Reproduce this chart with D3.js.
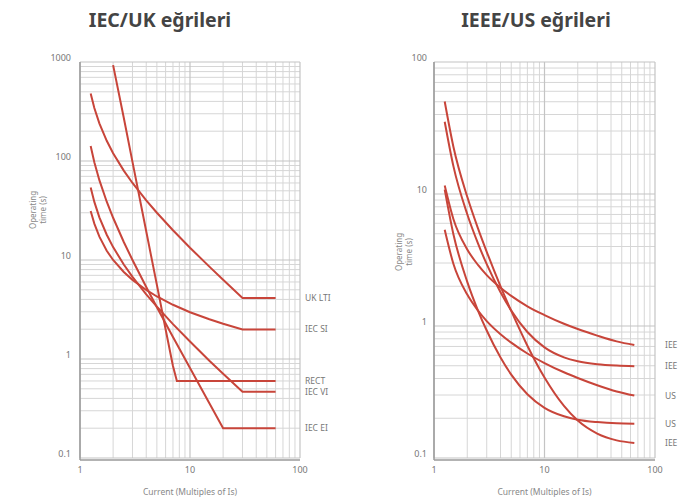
<!DOCTYPE html>
<html>
<head>
<meta charset="utf-8">
<script src="https://cdn.jsdelivr.net/npm/d3@7"></script>
<style>
  body { margin: 0; background: #fff; }
  svg { display: block; font-family: "Noto Sans", "Open Sans", sans-serif; }
</style>
</head>
<body>
<svg width="679" height="504"></svg>
<script>
// multiples of Is used for the readings
var currentLeft = [1.25, 1.35, 1.5, 1.75, 2, 2.5, 3, 4, 5, 7, 10, 15, 20, 30, 60];
var currentRight = [1.25, 1.5, 2, 2.5, 3, 4, 5, 7, 10, 15, 20, 30, 45, 65];

// IEC / UK curves (operating time, s)
var iecSI  = [31.3, 23.3, 17.2, 12.4, 10.0, 7.57, 6.30, 4.98, 4.28, 3.53, 2.97, 2.52, 2.27, 1.99, 1.99];
var iecVI  = [54, 38.6, 27, 18, 13.5, 9.0, 6.75, 4.5, 3.38, 2.25, 1.5, 0.96, 0.71, 0.466, 0.466];
var iecEI  = [142, 97.3, 64, 38.8, 26.7, 15.2, 10, 5.33, 3.33, 1.67, 0.81, 0.357, 0.2, 0.2, 0.2];
var ukLTI  = [480, 343, 240, 160, 120, 80, 60, 40, 30, 20, 13.3, 8.57, 6.32, 4.14, 4.14];
var rectX  = [2, 2.5, 3, 4, 5, 6, 7, 7.6, 60];
var rectT  = [930, 273, 98, 19.5, 5.6, 2.0, 0.85, 0.6, 0.6];

// IEEE / US curves (operating time, s)
var ieeeMI = [11.6, 6.44, 3.80, 2.90, 2.43, 1.95, 1.69, 1.41, 1.21, 1.04, 0.948, 0.846, 0.765, 0.718];
var ieeeVI = [35.3, 16.2, 7.03, 4.23, 2.94, 1.80, 1.31, 0.90, 0.689, 0.579, 0.540, 0.513, 0.501, 0.496];
var ieeeEI = [50.2, 22.7, 9.52, 5.49, 3.65, 2.00, 1.30, 0.709, 0.407, 0.248, 0.192, 0.153, 0.136, 0.130];
var usCO8  = [10.8, 4.94, 2.16, 1.31, 0.924, 0.577, 0.428, 0.304, 0.240, 0.207, 0.195, 0.187, 0.183, 0.182];
var usCO2  = [5.36, 2.95, 1.73, 1.31, 1.09, 0.867, 0.748, 0.619, 0.524, 0.446, 0.404, 0.356, 0.319, 0.297];

var leftNames = ["UK LTI", "IEC SI", "RECT", "IEC VI", "IEC EI"];
// right-hand labels run off the edge of the original; only these letters show
var rightNames = ["IEE", "IEE", "US", "US", "IEE"];
var xTicks = [1, 10, 100];
var leftYTicks = [0.1, 1, 10, 100, 1000];
var rightYTicks = [0.1, 1, 10, 100];

var svg = d3.select("svg");
var red = "#c8453a";

function zip(xs, ys) {
  return xs.map(function(x, i) { return [x, ys[i]]; });
}

function drawPanel(opt) {
  var x = d3.scaleLog().domain([1, 100]).range(opt.xr);
  var y = d3.scaleLog().domain(opt.yd).range(opt.yr);
  var g = svg.append("g");

  // minor grid
  var xMinor = [], yMinor = [];
  for (var d = 1; d < 100; d *= 10)
    for (var k = 2; k < 10; k++) xMinor.push(d * k);
  for (var d2 = opt.yd[0]; d2 < opt.yd[1] * 0.99; d2 *= 10)
    for (var k2 = 2; k2 < 10; k2++) yMinor.push(d2 * k2);

  g.selectAll(".vx").data(xMinor).enter().append("line")
    .attr("x1", x).attr("x2", x)
    .attr("y1", opt.yr[0]).attr("y2", opt.yr[1])
    .attr("stroke", "#d6d6d6").attr("stroke-width", 1);
  g.selectAll(".hy").data(yMinor).enter().append("line")
    .attr("y1", y).attr("y2", y)
    .attr("x1", opt.xr[0]).attr("x2", opt.xr[1])
    .attr("stroke", "#d6d6d6").attr("stroke-width", 1);
  // decade lines
  g.selectAll(".mx").data(xTicks).enter().append("line")
    .attr("x1", x).attr("x2", x)
    .attr("y1", opt.yr[0]).attr("y2", opt.yr[1])
    .attr("stroke", "#c4c4c4").attr("stroke-width", 1.2);
  g.selectAll(".my").data(opt.yTicks).enter().append("line")
    .attr("y1", y).attr("y2", y)
    .attr("x1", opt.xr[0]).attr("x2", opt.xr[1])
    .attr("stroke", "#c4c4c4").attr("stroke-width", 1.2);

  // axes
  g.append("line").attr("x1", opt.xr[0]).attr("x2", opt.xr[0])
    .attr("y1", opt.yr[0] + 2).attr("y2", opt.yr[1])
    .attr("stroke", "#9a9a9a").attr("stroke-width", 1.5);
  g.append("line").attr("x1", opt.xr[0]).attr("x2", opt.xr[1])
    .attr("y1", opt.yr[0] + 2).attr("y2", opt.yr[0] + 2)
    .attr("stroke", "#9a9a9a").attr("stroke-width", 1.5);

  g.selectAll(".xl").data(xTicks).enter().append("text")
    .attr("x", x).attr("y", opt.yr[0] + 15)
    .attr("text-anchor", "middle").attr("font-size", 9).attr("fill", "#777")
    .text(function(d) { return d; });
  g.selectAll(".yl").data(opt.yTicks).enter().append("text")
    .attr("x", opt.xr[0] - opt.tickPad).attr("y", function(d) { return y(d) - 1; })
    .attr("text-anchor", "end").attr("font-size", 9).attr("fill", "#777")
    .text(function(d) { return d; });

  // axis titles
  g.append("text")
    .attr("x", (opt.xr[0] + opt.xr[1]) / 2).attr("y", opt.yr[0] + 37)
    .attr("text-anchor", "middle").attr("font-size", 8.5).attr("fill", "#888")
    .text("Current (Multiples of Is)");
  var yt = g.append("text")
    .attr("transform", "translate(" + opt.ytx + "," + opt.yty + ") rotate(-90)")
    .attr("text-anchor", "middle").attr("font-size", 8).attr("fill", "#888");
  yt.append("tspan").attr("x", 0).attr("dy", 0).text("Operating");
  yt.append("tspan").attr("x", 0).attr("dy", 10).text("time (s)");

  // title
  svg.append("text")
    .attr("x", opt.titleX).attr("y", 27)
    .attr("text-anchor", "middle").attr("font-size", 19.5)
    .attr("font-weight", "bold").attr("fill", "#444")
    .text(opt.title);

  // curves
  var line = d3.line()
    .x(function(d) { return x(d[0]); })
    .y(function(d) { return y(d[1]); })
    .curve(opt.curve);
  g.selectAll(".curve").data(opt.series).enter().append("path")
    .attr("d", function(s) { return line(s.pts); })
    .attr("fill", "none").attr("stroke", red).attr("stroke-width", 2);

  g.selectAll(".lab").data(opt.series).enter().append("text")
    .attr("x", opt.labelX)
    .attr("y", function(s) { return y(s.pts[s.pts.length - 1][1]) + 3; })
    .attr("font-size", 8.5).attr("fill", "#777")
    .text(function(s) { return s.name; });
}

drawPanel({
  title: "IEC/UK eğrileri", titleX: 160,
  xr: [80, 300], yd: [0.1, 1000], yr: [458, 62], yTicks: leftYTicks,
  tickPad: 9, ytx: 36, yty: 210, labelX: 305, curve: d3.curveLinear,
  series: [
    { name: leftNames[0], pts: zip(currentLeft, ukLTI) },
    { name: leftNames[1], pts: zip(currentLeft, iecSI) },
    { name: leftNames[2], pts: zip(rectX, rectT) },
    { name: leftNames[3], pts: zip(currentLeft, iecVI) },
    { name: leftNames[4], pts: zip(currentLeft, iecEI) }
  ]
});

drawPanel({
  title: "IEEE/US eğrileri", titleX: 536,
  xr: [434, 655], yd: [0.1, 100], yr: [458, 62], yTicks: rightYTicks,
  tickPad: 7, ytx: 402, yty: 252, labelX: 665, curve: d3.curveMonotoneX,
  series: [
    { name: rightNames[0], pts: zip(currentRight, ieeeMI) },
    { name: rightNames[1], pts: zip(currentRight, ieeeVI) },
    { name: rightNames[2], pts: zip(currentRight, usCO2) },
    { name: rightNames[3], pts: zip(currentRight, usCO8) },
    { name: rightNames[4], pts: zip(currentRight, ieeeEI) }
  ]
});
</script>
</body>
</html>
